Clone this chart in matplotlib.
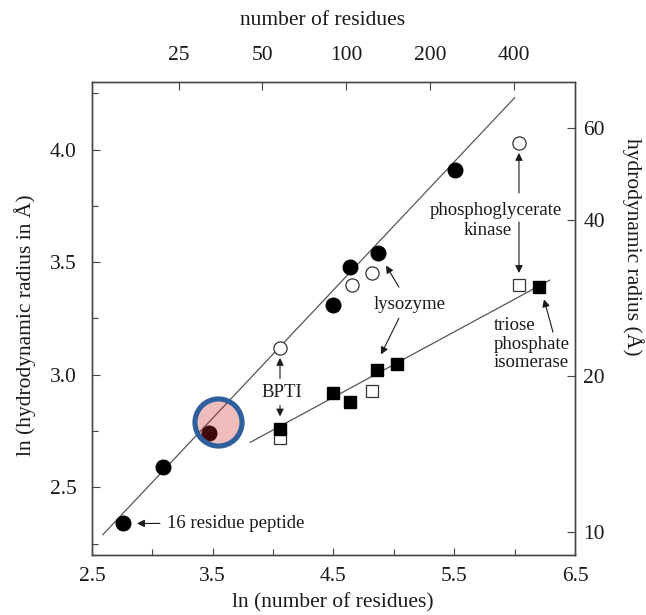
import matplotlib.pyplot as plt
import numpy as np

plt.rcParams['font.family'] = ['Liberation Serif', 'DejaVu Serif']

# ln(number of residues) / ln(hydrodynamic radius) for each protein set
ln_n_filled_circ = [2.76, 3.09, 3.47, 4.50, 4.64, 4.87, 5.51]
ln_r_filled_circ = [2.34, 2.59, 2.74, 3.31, 3.48, 3.54, 3.91]
ln_n_open_circ = [4.06, 4.65, 4.82, 6.04]
ln_r_open_circ = [3.12, 3.40, 3.45, 4.03]
ln_n_filled_sq = [4.06, 4.50, 4.64, 4.86, 5.03, 6.20]
ln_r_filled_sq = [2.76, 2.92, 2.88, 3.02, 3.05, 3.39]
ln_n_open_sq = [4.06, 4.82, 6.04]
ln_r_open_sq = [2.72, 2.93, 3.40]

# fitted lines (end points)
fit_upper_x = [2.59, 6.00]
fit_upper_y = [2.29, 4.23]
fit_lower_x = [3.81, 6.29]
fit_lower_y = [2.70, 3.42]

# highlighted point
hl_x, hl_y = 3.54, 2.79

top_ticks = [25, 50, 100, 200, 400]
right_ticks = [10, 20, 40, 60]

fig = plt.figure(figsize=(6.46, 6.15), dpi=100)
ax = fig.add_axes([0.1424, 0.0976, 0.7477, 0.7691])

ink = '#1a1a1a'
line_c = '#555555'

ax.plot(fit_upper_x, fit_upper_y, color=line_c, lw=0.9, zorder=2)
ax.plot(fit_lower_x, fit_lower_y, color=line_c, lw=0.9, zorder=2)

ax.plot(ln_n_filled_circ, ln_r_filled_circ, 'o', ms=10.5, color='black', zorder=3)
ax.plot(ln_n_open_circ, ln_r_open_circ, 'o', ms=9.5, mfc='white', mec='#333333', mew=0.9, zorder=3)
ax.plot(ln_n_open_sq, ln_r_open_sq, 's', ms=8.3, mfc='white', mec='#333333', mew=0.9, zorder=3)
ax.plot(ln_n_filled_sq, ln_r_filled_sq, 's', ms=8.5, color='black', zorder=4)

# highlight ring
ax.scatter([hl_x], [hl_y], s=1150, facecolor=(0.80, 0.13, 0.13, 0.30),
           edgecolor='#2e5f9c', linewidth=3.7, zorder=6)

fs = 13.5
arrow = dict(arrowstyle='-|>', color=ink, lw=0.8, mutation_scale=11, shrinkA=0, shrinkB=0)

def arr(x0, y0, x1, y1):
    ax.annotate('', xy=(x1, y1), xytext=(x0, y0), arrowprops=arrow, zorder=5)

ax.text(3.121, 2.34, '16 residue peptide', fontsize=fs, color=ink, ha='left', va='center')
arr(3.063, 2.34, 2.873, 2.34)

ax.text(4.073, 2.922, 'BPTI', fontsize=fs, color=ink, ha='center', va='center')
arr(4.057, 2.984, 4.057, 3.075)
arr(4.057, 2.864, 4.057, 2.815)

ax.text(5.134, 3.313, 'lysozyme', fontsize=fs, color=ink, ha='center', va='center')
arr(5.042, 3.389, 4.935, 3.485)
arr(5.042, 3.251, 4.893, 3.09)

ax.text(5.846, 3.731, 'phosphoglycerate', fontsize=fs, color=ink, ha='center', va='center')
ax.text(5.78, 3.642, 'kinase', fontsize=fs, color=ink, ha='center', va='center')
arr(6.036, 3.807, 6.036, 3.985)
arr(6.036, 3.678, 6.036, 3.452)

ax.text(5.829, 3.136, 'triose\nphosphate\nisomerase', fontsize=fs, color=ink,
        ha='left', va='center', multialignment='left', linespacing=1.1)
arr(6.318, 3.189, 6.243, 3.335)

ax.set_xlim(2.5, 6.5)
ax.set_ylim(2.2, 4.3)
ax.set_xticks([2.5, 3.5, 4.5, 5.5, 6.5])
ax.set_xticks([3.0, 4.0, 5.0, 6.0], minor=True)
ax.set_yticks([2.5, 3.0, 3.5, 4.0])
ax.set_yticks([2.25, 2.75, 3.25, 3.75, 4.25], minor=True)
ax.tick_params(which='both', direction='in', color='#444444', width=0.8,
               top=False, right=False, labelsize=15.5, labelcolor=ink)
ax.tick_params(axis='x', which='major', length=5, pad=9)
ax.tick_params(axis='x', which='minor', length=4)
ax.tick_params(axis='y', which='major', length=6, pad=11)
ax.tick_params(axis='y', which='minor', length=4)

# right axis: hydrodynamic radius in Angstrom
axr = ax.twinx()
axr.set_ylim(ax.get_ylim())
axr.set_yticks(np.log(right_ticks))
axr.set_yticklabels([str(v) for v in right_ticks])
axr.tick_params(direction='in', length=6, width=0.8, color='#444444', pad=6,
                labelsize=15.5, labelcolor=ink)

# top axis: number of residues
axt = ax.twiny()
axt.set_xlim(ax.get_xlim())
axt.set_xticks(np.log(top_ticks))
axt.set_xticklabels([str(v) for v in top_ticks])
axt.tick_params(direction='in', length=6, width=0.8, color='#444444', pad=12,
                labelsize=15.5, labelcolor=ink)

for a in (ax, axr, axt):
    for sp in a.spines.values():
        sp.set_color('#444444')
        sp.set_linewidth(0.9)

fig.text(0.5155, 0.0195, 'ln (number of residues)', fontsize=15.5, color=ink, ha='center', va='center')
fig.text(0.50, 0.966, 'number of residues', fontsize=15.5, color=ink, ha='center', va='center')
fig.text(0.0387, 0.4715, 'ln (hydrodynamic radius in Å)', fontsize=15.5, color=ink,
         ha='center', va='center', rotation=90)
fig.text(0.98, 0.598, 'hydrodynamic radius (Å)', fontsize=15.5, color=ink,
         ha='center', va='center', rotation=270)

fig.savefig('out.png', dpi=100)
